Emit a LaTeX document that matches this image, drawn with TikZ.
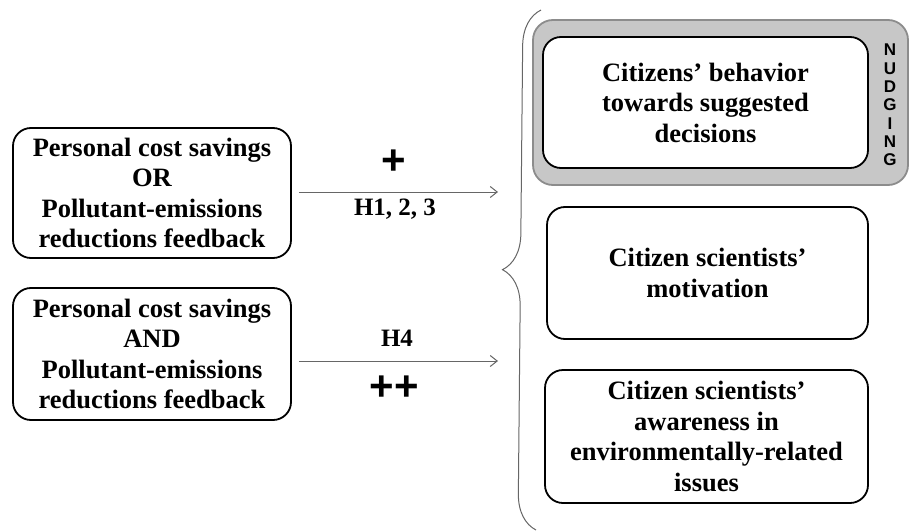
\documentclass[tikz,border=0pt]{standalone}
\usepackage{fontspec}
\setmainfont{Liberation Serif}
\setsansfont{Liberation Sans}
\usetikzlibrary{positioning,decorations.pathreplacing,arrows.meta}

\tikzset{
  box/.style={draw=black,line width=1.8pt,rounded corners=18pt,fill=white,
    align=center,inner sep=0pt,font=\bfseries\fontsize{26.5}{30.5}\selectfont},
  nudgebox/.style={draw=black!45,line width=1.8pt,rounded corners=20pt,fill=black!22},
  link/.style={draw=black!60,line width=1pt,-{Straight Barb[length=7pt,width=11pt]}},
  sign/.style={font=\bfseries\fontsize{25}{28}\selectfont,inner sep=0pt},
  bigsign/.style={font=\sffamily\bfseries\fontsize{42}{42}\selectfont,inner sep=0pt}
}

\begin{document}
\begin{tikzpicture}[x=1pt,y=-1pt]
\useasboundingbox (0,0) rectangle (909,532);

% feedback boxes
\node[box,minimum width=278pt,minimum height=130pt] (or) at (152,193)
  {Personal cost savings\\OR\\Pollutant-emissions\\reductions feedback};
\node[box,minimum width=278pt,minimum height=132pt] (and) at (152,354)
  {Personal cost savings\\AND\\Pollutant-emissions\\reductions feedback};

% outcomes
\node[nudgebox,minimum width=375pt,minimum height=165pt] (nudge) at (720.5,102.5) {};
\node[box,minimum width=325pt,minimum height=131pt] (behav) at (705.5,102.5)
  {Citizens' behavior\\towards suggested\\decisions};
\node[font=\sffamily\bfseries\fontsize{17}{18.3}\selectfont,align=center,inner sep=0pt]
  (nudging) at (890,105) {N\\U\\D\\G\\I\\N\\G};
\node[box,minimum width=321pt,minimum height=132pt] (motiv) at (707.5,273)
  {Citizen scientists'\\motivation};
\node[box,minimum width=323pt,minimum height=133pt] (aware) at (706.5,436.5)
  {Citizen scientists'\\awareness in\\environmentally-related\\issues};

% brace
\coordinate (btop) at (541,10);
\coordinate (bbot) at (536,530);
\draw[black!60,line width=1pt,decorate,decoration={brace,amplitude=36pt}] (bbot) -- (btop);

% arrows
\coordinate (e1) at (498,192);
\coordinate (e2) at (498,361);
\draw[link] ([xshift=7pt]or.east |- e1) -- (e1);
\draw[link] ([xshift=7pt]and.east |- e2) -- (e2);

\node[bigsign] (plus) at (394,162) {+};
\node[sign] (h123) at (395,209) {H1, 2, 3};
\node[sign] (h4) at (397,338) {H4};
\node[bigsign] (pplus) at (394,388) {++};
\end{tikzpicture}
\end{document}
